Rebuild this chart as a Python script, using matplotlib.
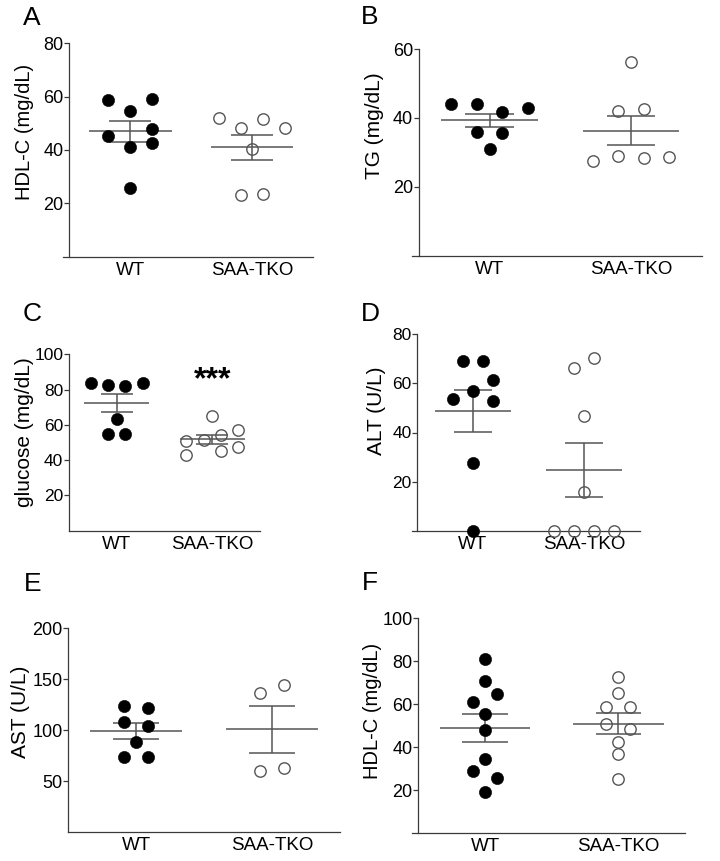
import numpy as np
import matplotlib.pyplot as plt

plt.rcParams['font.family'] = ['Liberation Sans', 'DejaVu Sans']

groups = ['WT', 'SAA-TKO']

# A: HDL-C (mg/dL)
a_wt = [58.75, 59.1, 54.75, 45.25, 48.0, 42.75, 41.25, 25.9]
a_tko = [51.9, 48.4, 51.5, 48.4, 40.25, 23.1, 23.4]
# B: TG (mg/dL)
b_wt = [44.0, 44.0, 41.8, 42.8, 35.8, 35.5, 31.0]
b_tko = [56.1, 42.1, 42.5, 27.6, 29.0, 28.3, 28.75]
# C: glucose (mg/dL)
c_wt = [83.8, 82.5, 81.9, 83.8, 63.4, 55.1, 55.1]
c_tko = [65.3, 50.75, 51.7, 54.5, 57.0, 42.8, 45.1, 47.5]
# D: ALT (U/L)
d_wt = [69.1, 69.1, 61.1, 53.5, 56.6, 52.6, 27.6, 0.0]
d_tko = [66.1, 70.1, 46.8, 15.8, 0.0, 0.0, 0.0, 0.0]
# E: AST (U/L)
e_wt = [124.2, 121.6, 107.8, 104.2, 88.2, 74.2, 74.2]
e_tko = [136.9, 144.4, 60.1, 62.7]
# F: HDL-C (mg/dL)
f_wt = [81.1, 71.0, 64.8, 60.9, 55.4, 48.0, 34.3, 29.0, 25.8, 19.3]
f_tko = [72.5, 65.4, 58.7, 58.7, 50.6, 48.4, 42.2, 36.8, 25.2]

# scatter columns (half-steps from the group centre), as arranged in the figure
a_wt_col = [-2, 2, 0, -2, 2, 2, 0, 0]
a_tko_col = [-3, -1, 1, 3, 0, -1, 1]
b_wt_col = [-3, -1, 1, 3, -1, 1, 0]
b_tko_col = [0, -1, 1, -3, -1, 1, 3]
c_wt_col = [-3, -1, 1, 3, 0, -1, 1]
c_tko_col = [0, -3, -1, 1, 3, -3, 1, 3]
d_wt_col = [-1, 1, 2, -2, 0, 2, 0, 0]
d_tko_col = [-1, 1, 0, 0, -3, -1, 1, 3]
e_wt_col = [-1, 1, -1, 1, 0, -1, 1]
e_tko_col = [-1, 1, -1, 1]
f_wt_col = [0, 0, 1, -1, 0, 0, 0, -1, 1, 0]
f_tko_col = [0, 0, -1, 1, -1, 1, 0, 0, 0]

W, H = 720, 861
LINE = '#555555'
AXC = '#3a3a3a'

fig = plt.figure(figsize=(W / 100, H / 100), dpi=100)


def panel(box, xleft, wt, tko, wt_col, tko_col, ymax, yticks, ylabel, lab_xy,
          letter, let_xy, ytick_fs=13, ylab_fs=15):
    x0, x1, top, bot = box
    ax = fig.add_axes([x0 / W, 1 - bot / H, (x1 - x0) / W, (bot - top) / H])
    step = 0.09
    for g, (vals, cols) in enumerate([(wt, wt_col), (tko, tko_col)]):
        v = np.asarray(vals)
        xs = g + np.asarray(cols) * step
        m = v.mean()
        se = v.std(ddof=1) / np.sqrt(len(v))
        ax.hlines(m, g - 0.34, g + 0.34, color=LINE, lw=1.1, zorder=2)
        ax.vlines(g, m - se, m + se, color=LINE, lw=1.1, zorder=2)
        ax.hlines([m - se, m + se], g - 0.17, g + 0.17, color=LINE, lw=1.1, zorder=2)
        if g == 0:
            ax.plot(xs, v, 'o', ms=8.8, mfc='black', mec='black', mew=0.4,
                    clip_on=False, zorder=3)
        else:
            ax.plot(xs, v, 'o', ms=8.2, mfc='none', mec=LINE, mew=1.0,
                    clip_on=False, zorder=3)
    ax.set_xlim(xleft, 1.5)
    ax.set_ylim(0, ymax)
    ax.set_yticks(yticks)
    ax.set_xticks([0, 1])
    ax.set_xticklabels(groups, fontsize=13.5)
    ax.tick_params(axis='x', length=0, pad=3.5)
    ax.tick_params(axis='y', length=3.6, width=0.9, color=AXC, pad=0.5,
                   labelsize=ytick_fs, direction='out')
    for s in ['top', 'right']:
        ax.spines[s].set_visible(False)
    ax.spines['left'].set_position(('data', -0.5))
    for s in ['left', 'bottom']:
        ax.spines[s].set_color(AXC)
        ax.spines[s].set_linewidth(0.9)
    ax.set_ylabel(ylabel, fontsize=ylab_fs, va='center')
    ax.yaxis.set_label_coords(lab_xy[0] / W, 1 - lab_xy[1] / H,
                              transform=fig.transFigure)
    fig.text(let_xy[0] / W, 1 - let_xy[1] / H, letter, fontsize=19,
             ha='left', va='center')
    return ax


panel((63, 313, 43.3, 256.7), -0.55, a_wt, a_tko, a_wt_col, a_tko_col,
      80, [20, 40, 60, 80], 'HDL-C (mg/dL)', (25, 132), 'A', (23, 18), ylab_fs=14.5)
panel((411.7, 701.7, 49, 255.7), -0.55, b_wt, b_tko, b_wt_col, b_tko_col,
      60, [20, 40, 60], 'TG (mg/dL)', (375, 126), 'B', (361, 17))
axc = panel((69, 260, 354.3, 530.7), -0.5, c_wt, c_tko, c_wt_col, c_tko_col,
            100, [20, 40, 60, 80, 100], 'glucose (mg/dL)', (25, 432.5), 'C', (23, 314),
            ytick_fs=12.5)
axc.text(1, 85.5, '***', fontsize=23, fontweight='bold', ha='center', va='center')
panel((411.7, 640, 333.7, 531.3), -0.55, d_wt, d_tko, d_wt_col, d_tko_col,
      80, [20, 40, 60, 80], 'ALT (U/L)', (376, 411), 'D', (361, 314), ytick_fs=12.5)
panel((68.3, 340, 628.3, 832.3), -0.5, e_wt, e_tko, e_wt_col, e_tko_col,
      200, [50, 100, 150, 200], 'AST (U/L)', (21, 711.5), 'E', (24, 584))
panel((411.7, 685, 618.3, 833), -0.55, f_wt, f_tko, f_wt_col, f_tko_col,
      100, [20, 40, 60, 80, 100], 'HDL-C (mg/dL)', (372, 710.7), 'F', (362, 583),
      ylab_fs=14.5)

fig.savefig('out.png', dpi=100, facecolor='white')
